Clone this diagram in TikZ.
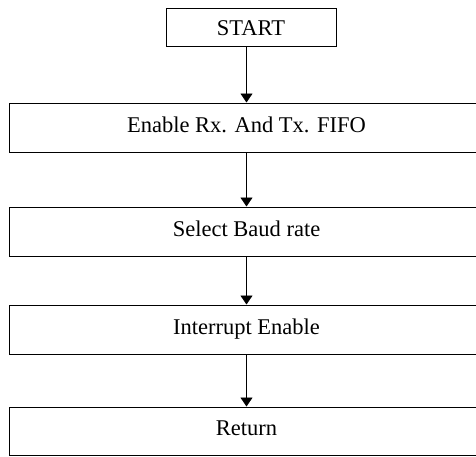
\documentclass[tikz,border=0pt]{standalone}
\usepackage{fontspec}
\setmainfont{Liberation Serif}
\usetikzlibrary{arrows.meta}
\begin{document}
\begin{tikzpicture}[x=1pt,y=-1pt,
  box/.style={draw, line width=1pt, inner sep=0pt, font=\fontsize{22.5}{26}\selectfont, text height=15pt, text depth=6pt},
  wide/.style={box, minimum width=475pt, minimum height=49pt},
  arr/.style={-{Triangle[length=9pt,width=12pt]}, line width=0.9pt}]
\useasboundingbox (0,0) rectangle (476,456);
\clip (0,0) rectangle (476,456);
\node[box, minimum width=170pt, minimum height=38pt, text height=17pt, text depth=0pt] (start) at (251,27) {START};
\node[wide] (enable) at (246.5,127.5) {Enable Rx. And Tx. FIFO};
\node[wide] (baud) at (246.5,231.5) {Select Baud rate};
\node[wide] (intr) at (246.5,329.5) {Interrupt Enable};
\node[wide, minimum height=48.5pt] (ret) at (246.5,431.25) {Return};
\draw[arr] (start.south -| enable.north) -- (enable.north);
\draw[arr] (enable.south) -- (baud.north);
\draw[arr] (baud.south) -- (intr.north);
\draw[arr] (intr.south) -- (ret.north);
\end{tikzpicture}
\end{document}
